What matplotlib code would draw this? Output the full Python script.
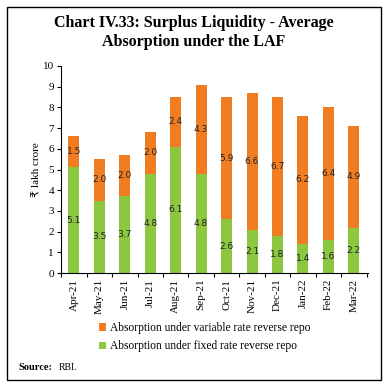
import numpy as np
import matplotlib
matplotlib.use('Agg')
import matplotlib.pyplot as plt
from matplotlib.patches import Rectangle

months = ['Apr-21','May-21','Jun-21','Jul-21','Aug-21','Sep-21','Oct-21','Nov-21','Dec-21','Jan-22','Feb-22','Mar-22']
fixed = [5.1,3.5,3.7,4.8,6.1,4.8,2.6,2.1,1.8,1.4,1.6,2.2]
variable = [1.5,2.0,2.0,2.0,2.4,4.3,5.9,6.6,6.7,6.2,6.4,4.9]

green = '#8DC63F'
orange = '#F07D22'
serif = ['Liberation Serif', 'DejaVu Sans']

plt.rcParams['font.family'] = serif

fig = plt.figure(figsize=(3.88,3.88), dpi=100)
ax = fig.add_axes([0.157, 0.296, 0.791, 0.534])

x = np.arange(len(months))
w = 0.43
ax.bar(x, fixed, w, color=green, label='Absorption under fixed rate reverse repo')
ax.bar(x, variable, w, bottom=fixed, color=orange, label='Absorption under variable rate reverse repo')

# value labels in the middle of each segment
for i in range(len(months)):
    ax.text(x[i], fixed[i]/2, '%.1f' % fixed[i], ha='center', va='center', fontsize=6.5,
            family='DejaVu Sans', color='#222222')
    ax.text(x[i], fixed[i]+variable[i]/2, '%.1f' % variable[i], ha='center', va='center', fontsize=6.5,
            family='DejaVu Sans', color='#222222')

ax.set_xlim(-0.51, 11.55)
ax.set_ylim(0, 10)
ax.set_yticks(range(0,11))
ax.tick_params(axis='y', labelsize=8, length=3, width=0.8, pad=2)
ax.set_xticks(x)
ax.set_xticklabels(months, rotation=90, fontsize=8)
ax.tick_params(axis='x', length=0, pad=4)
ax.set_xticks(np.arange(-0.5, 12, 1), minor=True)
ax.tick_params(axis='x', which='minor', length=3, width=0.8)
for s in ['top','right']:
    ax.spines[s].set_visible(False)
ax.spines['left'].set_linewidth(0.8)
ax.spines['bottom'].set_linewidth(0.8)
ax.set_ylabel('₹ lakh crore', fontsize=8, labelpad=1)

fig.text(0.5, 0.915, 'Chart IV.33: Surplus Liquidity - Average\nAbsorption under the LAF',
         ha='center', va='center', fontsize=11.5, fontweight='bold', linespacing=1.25)

h, l = ax.get_legend_handles_labels()
fig.legend(h[::-1], l[::-1], loc='center', bbox_to_anchor=(0.528, 0.131), frameon=False,
           fontsize=8.3, handlelength=0.6, handleheight=0.6, handletextpad=0.3, labelspacing=0.55)

fig.text(0.047, 0.053, 'Source:', fontsize=7.5, fontweight='bold', va='center')
fig.text(0.15, 0.053, 'RBI.', fontsize=7, va='center')

fig.add_artist(Rectangle((0.018, 0.02), 0.964, 0.962, transform=fig.transFigure,
                         fill=False, edgecolor='black', linewidth=1.0))

fig.savefig('out.png', dpi=100)
